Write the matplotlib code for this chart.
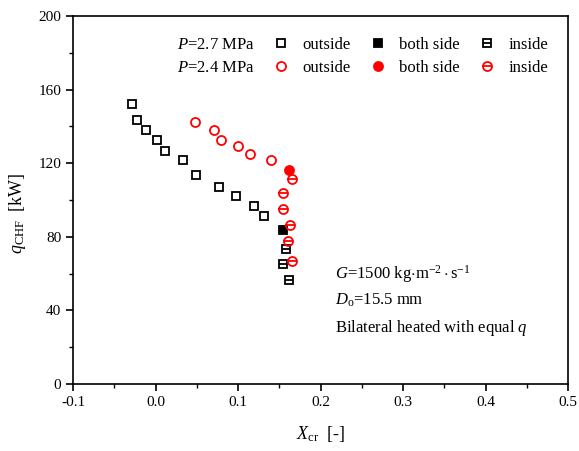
import matplotlib
matplotlib.use("Agg")
import matplotlib.pyplot as plt
from matplotlib.lines import Line2D
from matplotlib.legend_handler import HandlerTuple

plt.rcParams['font.family'] = ['Liberation Serif', 'DejaVu Serif']
plt.rcParams['mathtext.fontset'] = 'custom'
plt.rcParams['mathtext.rm'] = 'Liberation Serif'
plt.rcParams['mathtext.it'] = 'Liberation Serif:italic'

# P = 2.7 MPa
x27_out = [-0.029, -0.023, -0.012, 0.002, 0.012, 0.033, 0.049, 0.077, 0.098, 0.119, 0.132]
y27_out = [152.0, 143.6, 138.0, 132.8, 126.8, 121.7, 113.4, 106.9, 102.3, 96.9, 91.1]
x27_both = [0.155]
y27_both = [83.7]
x27_in = [0.158, 0.155, 0.162]
y27_in = [73.5, 65.4, 56.4]

# P = 2.4 MPa
x24_out = [0.048, 0.071, 0.079, 0.100, 0.115, 0.140]
y24_out = [142.6, 137.9, 132.6, 129.2, 125.0, 121.6]
x24_both = [0.162]
y24_both = [116.5]
x24_in = [0.165, 0.155, 0.155, 0.163, 0.160, 0.165]
y24_in = [111.6, 103.6, 94.9, 86.4, 77.5, 67.0]

ms = 6
mew = 1.3

fig = plt.figure(figsize=(5.79, 4.51), dpi=100)
ax = fig.add_axes([0.1261, 0.1486, 0.8549, 0.8159])

h_out27, = ax.plot(x27_out, y27_out, 's', ms=ms, mfc='none', mec='black', mew=mew, ls='none')
h_both27, = ax.plot(x27_both, y27_both, 's', ms=ms, mfc='black', mec='black', mew=mew, ls='none')
h_in27a, = ax.plot(x27_in, y27_in, 's', ms=ms, mfc='none', mec='black', mew=mew, ls='none')
h_in27b, = ax.plot(x27_in, y27_in, '_', ms=ms, mec='black', mew=mew, ls='none')

h_out24, = ax.plot(x24_out, y24_out, 'o', ms=ms + 0.5, mfc='none', mec='red', mew=mew, ls='none')
h_both24, = ax.plot(x24_both, y24_both, 'o', ms=ms + 0.5, mfc='red', mec='red', mew=mew, ls='none')
h_in24a, = ax.plot(x24_in, y24_in, 'o', ms=ms + 0.5, mfc='none', mec='red', mew=mew, ls='none')
h_in24b, = ax.plot(x24_in, y24_in, '_', ms=ms + 0.5, mec='red', mew=mew, ls='none')

blank = Line2D([], [], ls='none', marker='none')
handles = [blank, blank, h_out27, h_out24, h_both27, h_both24,
           (h_in27a, h_in27b), (h_in24a, h_in24b)]
labels = [r'$\it{P}$=2.7 MPa', r'$\it{P}$=2.4 MPa', 'outside', 'outside',
          'both side', 'both side', 'inside', 'inside']
ax.legend(handles, labels, ncol=4, loc='upper right', bbox_to_anchor=(0.99, 0.983),
          frameon=False, fontsize=12, handlelength=1.0, handletextpad=0.8,
          columnspacing=1.1, labelspacing=0.4,
          handler_map={tuple: HandlerTuple(ndivide=1)})

ax.text(0.53, 0.285, r'$G$=1500 kg$\cdot$m$^{-2}\cdot$s$^{-1}$', transform=ax.transAxes, fontsize=12)
ax.text(0.53, 0.215, r'$D_{\rm o}$=15.5 mm', transform=ax.transAxes, fontsize=12)
ax.text(0.53, 0.142, r'Bilateral heated with equal $q$', transform=ax.transAxes, fontsize=12)

ax.set_xlim(-0.1, 0.5)
ax.set_ylim(0, 200)
ax.set_xticks([-0.1, 0.0, 0.1, 0.2, 0.3, 0.4, 0.5])
ax.set_xticklabels(['-0.1', '0.0', '0.1', '0.2', '0.3', '0.4', '0.5'])
ax.set_xticks([-0.05, 0.05, 0.15, 0.25, 0.35, 0.45], minor=True)
ax.set_yticks([0, 40, 80, 120, 160, 200])
ax.set_yticks([20, 60, 100, 140, 180], minor=True)
ax.tick_params(which='major', direction='out', length=5, width=1.2, labelsize=11)
ax.tick_params(which='minor', direction='out', length=3, width=1.0)
for s in ax.spines.values():
    s.set_linewidth(1.2)

ax.set_xlabel(r'$X_{\rm cr}$  [-]', fontsize=13, labelpad=11)
ax.set_ylabel(r'$q_{\rm CHF}$  [kW]', fontsize=13)
ax.yaxis.set_label_coords(-0.09, 0.465)

fig.savefig('out.png', dpi=100)
